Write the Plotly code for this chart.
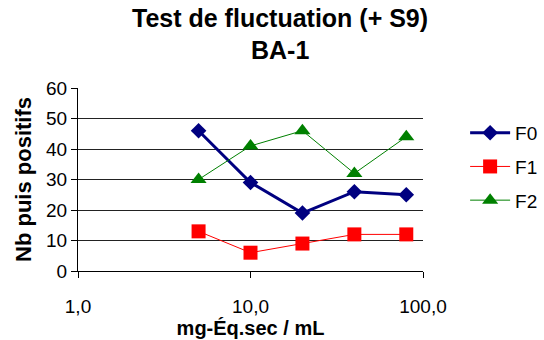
import plotly.graph_objects as go

# Concentrations (mg-Éq.sec / mL) and number of positive wells per fluctuation
concentrations = [5, 10, 20, 40, 80]
f0_values = [46, 29, 19, 26, 25]
f1_values = [13, 6, 9, 12, 12]
f2_values = [30, 41, 46, 32, 44]

x_tick_values = [1, 10, 100]
x_tick_labels = ["1,0", "10,0", "100,0"]
y_tick_values = [0, 10, 20, 30, 40, 50, 60]

title_lines = ["Test de fluctuation (+ S9)", "BA-1"]

FONT = "Liberation Sans, Arial, sans-serif"

fig = go.Figure()

series = [
    ("F0", f0_values, "#000080", 3, "diamond", 12),
    ("F1", f1_values, "#FF0000", 1, "square", 14),
    ("F2", f2_values, "#008000", 1, "triangle-up", 14),
]
for name, values, color, width, symbol, size in series:
    fig.add_trace(go.Scatter(
        x=concentrations, y=values, name=name, legendgroup=name,
        mode="lines+markers",
        line=dict(color=color, width=width),
        marker=dict(symbol=symbol, size=size, color=color, line=dict(width=0)),
    ))

# Two-line bold title, centred over the chart
for text, y in zip(title_lines, [1.385, 1.21]):
    fig.add_annotation(
        text=f"<b>{text}</b>", xref="paper", yref="paper",
        x=0.585, y=y, xanchor="center", yanchor="middle",
        showarrow=False, font=dict(family=FONT, size=25, color="black"),
    )

fig.update_layout(
    width=544, height=340,
    margin=dict(l=78, r=121, t=88, b=69),
    paper_bgcolor="white", plot_bgcolor="white",
    font=dict(family=FONT, size=19, color="black"),
    showlegend=True,
    legend=dict(
        xref="container", yref="container",
        x=0.855, xanchor="left", y=0.665, yanchor="top",
        traceorder="grouped", tracegroupgap=6,
        font=dict(family=FONT, size=19, color="black"),
        itemwidth=40, borderwidth=0,
    ),
    xaxis=dict(
        type="log", range=[0, 2], automargin=False,
        tickvals=x_tick_values, ticktext=x_tick_labels,
        showgrid=False, zeroline=False,
        showline=True, linecolor="black", linewidth=1,
        ticks="outside", ticklen=6, tickcolor="black",
        ticklabelstandoff=12,
        tickfont=dict(family=FONT, size=19),
        title=dict(text="<b>mg-Éq.sec / mL</b>", standoff=3,
                   font=dict(family=FONT, size=20)),
    ),
    yaxis=dict(
        range=[0, 60], tickvals=y_tick_values, automargin=False,
        showgrid=True, gridcolor="#222222", gridwidth=1,
        zeroline=False,
        showline=True, linecolor="black", linewidth=1,
        ticks="outside", ticklen=6, tickcolor="black",
        tickfont=dict(family=FONT, size=19),
        title=dict(text="<b>Nb puis positifs</b>", standoff=8,
                   font=dict(family=FONT, size=22)),
    ),
)

fig.write_html("out.html")
